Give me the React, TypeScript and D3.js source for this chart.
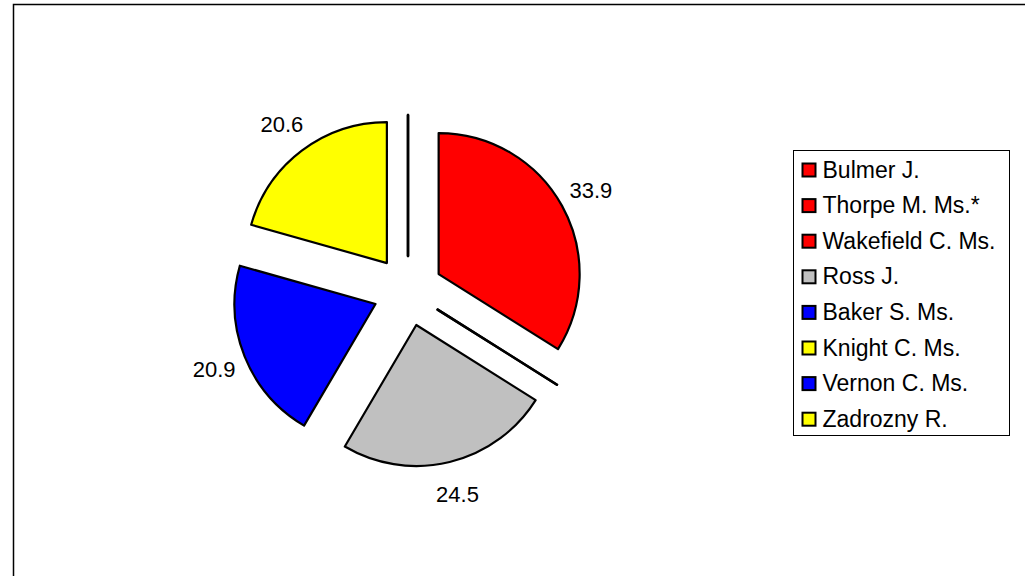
import React, {useEffect, useRef} from "react";
import * as d3 from "d3";

// candidates in legend order, value = share of vote (%)
const names = [
    "Bulmer J.",
    "Thorpe M. Ms.*",
    "Wakefield C. Ms.",
    "Ross J.",
    "Baker S. Ms.",
    "Knight C. Ms.",
    "Vernon C. Ms.",
    "Zadrozny R.",
];
const values = [33.9, 0, 0, 24.5, 20.9, 20.6, 0, 0];
const colors = ["#ff0000", "#ff0000", "#ff0000", "#c0c0c0", "#0000ff", "#ffff00", "#0000ff", "#ffff00"];

interface Slice {
    name: string;
    value: number;
    color: string;
}

const data: Slice[] = names.map((n, i) => ({name: n, value: values[i], color: colors[i]}));

const PieChart: React.FC = () => {
    const svgRef = useRef<SVGSVGElement | null>(null);
    const width = 1025;
    const height = 576;

    useEffect(() => {
        if (!svgRef.current) return;
        const svgEl = d3.select(svgRef.current);
        svgEl.selectAll("*").remove();

        const font = "'Liberation Sans', Arial, sans-serif";

        // outer chart frame (runs off the right and bottom edges)
        svgEl
            .append("rect")
            .attr("x", 13.5)
            .attr("y", 4.5)
            .attr("width", 1100)
            .attr("height", 700)
            .attr("fill", "white")
            .attr("stroke", "#000")
            .attr("stroke-width", 1.5);

        const cx = 408;
        const cy = 291;
        const radius = 141;
        const explode = 35;
        const labelRadius = 174;

        const pie = d3
            .pie<Slice>()
            .sort(null)
            .value((d) => d.value)
            .startAngle(0)
            .endAngle(2 * Math.PI);

        const arcs = pie(data);
        const arcGen = d3.arc<d3.PieArcDatum<Slice>>().innerRadius(0).outerRadius(radius);

        const midOf = (d: d3.PieArcDatum<Slice>) => (d.startAngle + d.endAngle) / 2;
        const offset = (d: d3.PieArcDatum<Slice>, r: number): [number, number] => {
            const a = midOf(d);
            return [Math.sin(a) * r, -Math.cos(a) * r];
        };

        const g = svgEl.append("g").attr("transform", `translate(${cx}, ${cy})`);

        g.selectAll("path.slice")
            .data(arcs)
            .enter()
            .append("path")
            .attr("class", "slice")
            .attr("transform", (d) => {
                const [dx, dy] = offset(d, explode);
                return `translate(${dx}, ${dy})`;
            })
            .attr("d", (d) => arcGen(d) ?? "")
            .attr("fill", (d) => (d.value > 0 ? d.data.color : "none"))
            .attr("stroke", "#000")
            .attr("stroke-width", (d) => (d.value > 0 ? 2.2 : 2.5))
            .attr("stroke-linejoin", "round");

        g.selectAll("text.value-label")
            .data(arcs.filter((d) => d.value > 0))
            .enter()
            .append("text")
            .attr("class", "value-label")
            .attr("x", (d) => offset(d, explode)[0] + offset(d, labelRadius)[0])
            .attr("y", (d) => offset(d, explode)[1] + offset(d, labelRadius)[1])
            .attr("text-anchor", "middle")
            .attr("dy", "0.36em")
            .style("font-family", font)
            .style("font-size", "22px")
            .style("fill", "#000")
            .text((d) => d.data.value.toFixed(1));

        // legend
        const legend = svgEl.append("g").attr("transform", "translate(793.5, 150.5)");
        legend
            .append("rect")
            .attr("width", 216)
            .attr("height", 285)
            .attr("fill", "white")
            .attr("stroke", "#000")
            .attr("stroke-width", 1);

        const rowY = d3.scaleLinear().domain([0, 7]).range([20, 20 + 7 * 35.6]);

        const rows = legend
            .selectAll("g.row")
            .data(data)
            .enter()
            .append("g")
            .attr("class", "row")
            .attr("transform", (_, i) => `translate(0, ${rowY(i)})`);

        rows.append("rect")
            .attr("x", 9)
            .attr("y", -7)
            .attr("width", 13)
            .attr("height", 13)
            .attr("fill", (d) => d.color)
            .attr("stroke", "#000")
            .attr("stroke-width", 2);

        rows.append("text")
            .attr("x", 29)
            .attr("y", 7)
            .style("font-family", font)
            .style("font-size", "23px")
            .style("fill", "#000")
            .text((d) => d.name);
    }, []);

    return (
        <svg
            ref={svgRef}
            width={width}
            height={height}
            style={{position: "absolute", left: 0, top: 0, background: "white"}}
        />
    );
};

export default function App() {
    return <PieChart />;
}
